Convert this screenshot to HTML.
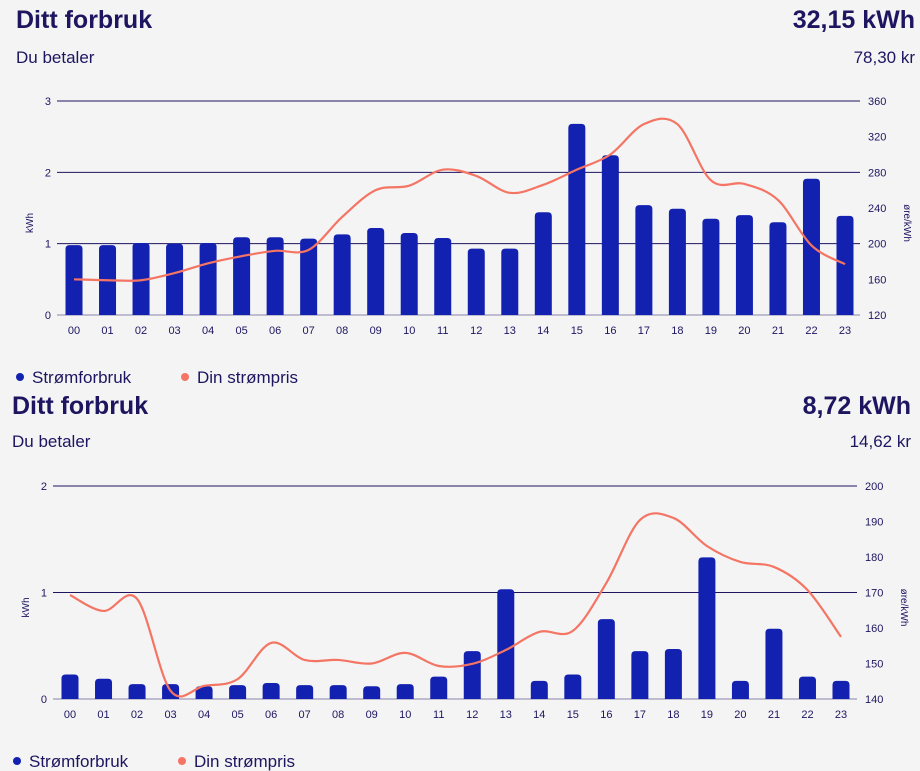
<!DOCTYPE html>
<html><head><meta charset="utf-8"><style>
body{margin:0;background:#f4f4f4;font-family:"Liberation Sans",sans-serif;color:#1d1560;width:920px;height:771px;overflow:hidden;position:relative}
.t{position:absolute;white-space:nowrap}
svg{position:absolute;left:0;top:0}
</style></head><body>
<div class="t" style="left:16px;top:6px;font-size:25px;font-weight:bold">Ditt forbruk</div>
<div class="t" style="right:5px;top:6px;font-size:25px;font-weight:bold">32,15 kWh</div>
<div class="t" style="left:16px;top:48px;font-size:17px">Du betaler</div>
<div class="t" style="right:5px;top:48px;font-size:17px">78,30 kr</div>
<div class="t" style="left:12px;top:392px;font-size:25px;font-weight:bold">Ditt forbruk</div>
<div class="t" style="right:9px;top:392px;font-size:25px;font-weight:bold">8,72 kWh</div>
<div class="t" style="left:12px;top:432px;font-size:17px">Du betaler</div>
<div class="t" style="right:9px;top:432px;font-size:17px">14,62 kr</div>
<svg id="s" width="920" height="771"></svg>
<script>
const hours=["00","01","02","03","04","05","06","07","08","09","10","11","12","13","14","15","16","17","18","19","20","21","22","23"];
const kwh1=[0.98,0.98,1.01,1.0,1.01,1.09,1.09,1.07,1.13,1.22,1.15,1.08,0.93,0.93,1.44,2.68,2.24,1.54,1.49,1.35,1.40,1.30,1.91,1.39];
const price1=[160,159,159,167,178,186,192,193,230,260,265,283,276,257,266,283,300,334,334,271,267,249,198,177];
const leftTicks1=[0,1,2,3];
const rightTicks1=[120,160,200,240,280,320,360];
const kwh2=[0.23,0.19,0.14,0.14,0.12,0.13,0.15,0.13,0.13,0.12,0.14,0.21,0.45,1.03,0.17,0.23,0.75,0.45,0.47,1.33,0.17,0.66,0.21,0.17];
const price2=[169.3,164.8,168.2,142.3,143.7,145.6,155.8,151,151,150,153,149.3,149.9,153.8,158.9,159.2,172.7,190.4,191,183.1,178.6,177.2,170.7,157.5];
const leftTicks2=[0,1,2];
const rightTicks2=[140,150,160,170,180,190,200];
const S=document.getElementById('s'),NS='http://www.w3.org/2000/svg';
function mk(t,a,p){const e=document.createElementNS(NS,t);for(const k in a)e.setAttribute(k,a[k]);(p||S).appendChild(e);return e;}
function chart(o){
  const g=mk('g',{});
  
  
  const yL=v=>o.y0-(v-o.lt[0])/(o.lt[o.lt.length-1]-o.lt[0])*(o.y0-o.y1);
  const yR=v=>o.y0-(v-o.rt[0])/(o.rt[o.rt.length-1]-o.rt[0])*(o.y0-o.y1);
  const x=i=>o.xa+i*(o.xb-o.xa)/23;
  o.lt.forEach(v=>{
    const l=mk('line',{x1:o.gl,x2:o.gr,y1:yL(v),y2:yL(v),stroke:'#1d1560','stroke-width':v===0?0.6:1},g);
    
    const t=mk('text',{x:o.gl-6,y:yL(v)+4,'text-anchor':'end','font-size':11,fill:'#1d1560'},g);t.textContent=v;
    
  });
  o.rt.forEach(v=>{
    const t=mk('text',{x:o.gr+8,y:yR(v)+4,'font-size':11,fill:'#1d1560'},g);t.textContent=v;
    
  });
  let t=mk('text',{x:0,y:0,'font-size':10,fill:'#1d1560','text-anchor':'middle',transform:`translate(${o.gl-24},${(o.y0+o.y1)/2+15}) rotate(-90)`},g);t.textContent='kWh';
  
  t=mk('text',{x:0,y:0,'font-size':10,fill:'#1d1560','text-anchor':'middle',transform:`translate(${o.gr+44},${(o.y0+o.y1)/2+15}) rotate(90)`},g);t.textContent='øre/kWh';
  
  o.k.forEach((v,i)=>{
    const h=o.y0-yL(v),w=17,r=4;
    const p=mk('path',{d:`M${x(i)-w/2},${o.y0}V${yL(v)+r}Q${x(i)-w/2},${yL(v)} ${x(i)-w/2+r},${yL(v)}H${x(i)+w/2-r}Q${x(i)+w/2},${yL(v)} ${x(i)+w/2},${yL(v)+r}V${o.y0}Z`,fill:'#1321b0'},g);
    
    const tx=mk('text',{x:x(i),y:o.y0+19,'text-anchor':'middle','font-size':11,fill:'#1d1560'},g);tx.textContent=hours[i];
    
  });
  const P=o.p.map((v,i)=>[x(i),yR(v)]);
  let d='M'+P[0][0]+','+P[0][1];
  for(let i=0;i<P.length-1;i++){
    const p0=P[Math.max(0,i-1)],p1=P[i],p2=P[i+1],p3=P[Math.min(P.length-1,i+2)];
    d+=`C${p1[0]+(p2[0]-p0[0])/6},${p1[1]+(p2[1]-p0[1])/6} ${p2[0]-(p3[0]-p1[0])/6},${p2[1]-(p3[1]-p1[1])/6} ${p2[0]},${p2[1]}`;
  }
  const ln=mk('path',{d,fill:'none',stroke:'#f47564','stroke-width':2.2},g);
  
  const ly=o.legY;
  let c=mk('circle',{cx:o.legX,cy:ly,r:4,fill:'#1321b0'},g);
  
  t=mk('text',{x:o.legX+12,y:ly+6,'font-size':17,fill:'#1d1560'},g);t.textContent='Strømforbruk';
  
  c=mk('circle',{cx:o.legX+165,cy:ly,r:4,fill:'#f47564'},g);
  
  t=mk('text',{x:o.legX+177,y:ly+6,'font-size':17,fill:'#1d1560'},g);t.textContent='Din strømpris';
  
}
chart({name:'chart-1',k:kwh1,p:price1,lt:leftTicks1,rt:rightTicks1,y0:315,y1:101,xa:74,xb:845,gl:57,gr:860,legX:20,legY:377});
chart({name:'chart-2',k:kwh2,p:price2,lt:leftTicks2,rt:rightTicks2,y0:699,y1:486,xa:70,xb:841,gl:53,gr:857,legX:17,legY:761});
</script>
</body></html>
